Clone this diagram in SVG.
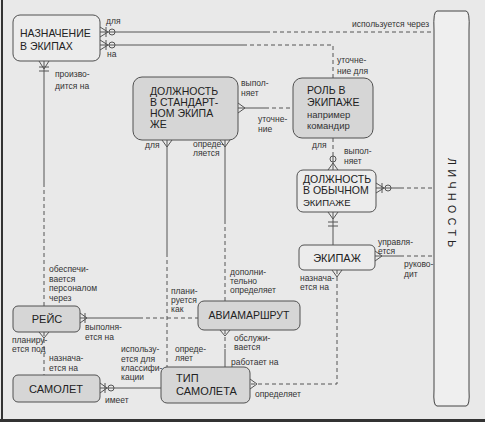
<svg xmlns="http://www.w3.org/2000/svg" width="485" height="422" viewBox="0 0 485 422">
<style>
.bg{fill:#e9e9e9}
.box{stroke:#505050;stroke-width:1}
.lt{fill:#ececec}
.dk{fill:#d6d6d6}
.nm{font-family:"Liberation Sans",Arial,sans-serif;font-size:10.5px;fill:#222}
.sm{font-family:"Liberation Sans",Arial,sans-serif;font-size:8.5px;fill:#333}
.ln{stroke:#555;stroke-width:1;fill:none}
.ds{stroke:#555;stroke-width:1;fill:none;stroke-dasharray:4 3}
.mk{stroke:#555;stroke-width:1;fill:none}
</style>
<rect class="bg" x="0" y="0" width="485" height="422"/>
<line x1="2" y1="0" x2="2" y2="422" stroke="#333" stroke-width="2"/>
<line x1="0" y1="420.5" x2="485" y2="420.5" stroke="#333" stroke-width="3"/>

<g id="connectors">
  <!-- Назначение - Личность -->
  <path class="ln" d="M100,32 H266"/><path class="ds" d="M266,32 H434"/>
  <path class="mk" d="M100,27 L108,32 L100,37 M106,27 V37"/><circle class="mk" cx="112" cy="32" r="3"/>
  <!-- Назначение - Роль -->
  <path class="ln" d="M100,45 H243"/><path class="ds" d="M243,45 H333 V78"/>
  <path class="mk" d="M100,40 L108,45 L100,50 M106,40 V50"/><circle class="mk" cx="112" cy="45" r="3"/>
  <!-- Назначение - Рейс -->
  <path class="ln" d="M44,61 V183"/><path class="ds" d="M44,183 V306"/>
  <path class="mk" d="M39,61 L44,69 L49,61 M39,67 H49 M39,71 H49"/>
  <!-- ДолжнСтанд - Роль -->
  <path class="ln" d="M238,108 H265"/><path class="ds" d="M265,108 H293"/>
  <path class="mk" d="M238,103 L245,108 L238,113"/>
  <!-- ДолжнСтанд - Тип -->
  <path class="ln" d="M167,140 V253"/><path class="ds" d="M167,253 V367"/>
  <path class="mk" d="M162,140 L167,147 L172,140"/>
  <!-- ДолжнСтанд - Авиамаршрут -->
  <path class="ln" d="M225,140 V220"/><path class="ds" d="M225,220 V301"/>
  <path class="mk" d="M220,140 L225,147 L230,140"/>
  <!-- Роль - ДолжнОбыч -->
  <path class="ds" d="M333,138 V154"/><path class="ln" d="M333,154 V170"/>
  <path class="mk" d="M328,170 L333,163 L338,170"/><circle class="mk" cx="333" cy="159" r="3"/>
  <!-- ДолжнОбыч - Личность -->
  <path class="ln" d="M376,188 H400"/><path class="ds" d="M400,188 H434"/>
  <path class="mk" d="M376,183 L384,188 L376,193 M382,183 V193"/><circle class="mk" cx="388" cy="188" r="3"/>
  <!-- ДолжнОбыч - Экипаж -->
  <path class="ln" d="M333,212 V245"/>
  <path class="mk" d="M328,212 L333,219 L338,212 M328,222 H338 M328,226 H338"/>
  <!-- Экипаж - Личность -->
  <path class="ln" d="M375,256 H400"/><path class="ds" d="M400,256 H434"/>
  <path class="mk" d="M375,251 L382,256 L375,261"/>
  <!-- Экипаж - Тип -->
  <path class="ds" d="M337,270 V384 H250"/>
  <path class="mk" d="M332,270 L337,277 L342,270"/>
  <path class="mk" d="M250,379 L257,384 L250,389"/>
  <!-- Рейс - Авиамаршрут -->
  <path class="ln" d="M80,318 H139"/><path class="ds" d="M139,318 H198"/>
  <path class="mk" d="M80,313 L87,318 L80,323 M85,313 V323"/>
  <!-- Рейс - Самолет -->
  <path class="ds" d="M44,332 V375"/>
  <path class="mk" d="M39,332 L44,338 L49,332"/>
  <!-- Авиамаршрут - Тип -->
  <path class="ds" d="M225,330 V349"/><path class="ln" d="M225,349 V367"/>
  <path class="mk" d="M220,330 L225,336 L230,330"/>
  <!-- Самолет - Тип -->
  <path class="ln" d="M100,388 H161"/>
  <path class="mk" d="M100,383 L107,388 L100,393 M105,383 V393"/><circle class="mk" cx="111" cy="388" r="3"/>
</g>

<g id="lichnost">
  <path d="M437,11 H466 Q470,11 469,30 V390 Q470,406 466,406 H437 Q433,406 434,390 V30 Q433,11 437,11 Z" fill="#efefef" stroke="#444" stroke-width="1"/>
  <text class="nm" transform="translate(448,158) rotate(90)" letter-spacing="4.5">ЛИЧНОСТЬ</text>
</g>

<g id="naznachenie">
  <rect class="box lt" x="13" y="15" width="87" height="46" rx="7"/>
  <text class="nm" x="20" y="37">НАЗНАЧЕНИЕ</text>
  <text class="nm" x="20" y="50">В ЭКИПАХ</text>
</g>

<g id="dolzh-stand">
  <rect class="box dk" x="133" y="77" width="105" height="63" rx="9"/>
  <text class="nm" x="150" y="95">ДОЛЖНОСТЬ</text>
  <text class="nm" x="150" y="106">В СТАНДАРТ-</text>
  <text class="nm" x="150" y="117">НОМ ЭКИПА</text>
  <text class="nm" x="150" y="128">ЖЕ</text>
</g>

<g id="rol">
  <rect class="box dk" x="293" y="78" width="80" height="60" rx="9"/>
  <text class="nm" x="307" y="94">РОЛЬ В</text>
  <text class="nm" x="307" y="106">ЭКИПАЖЕ</text>
  <text class="sm" x="307" y="118" style="font-size:9.5px">например</text>
  <text class="sm" x="307" y="129" style="font-size:9.5px">командир</text>
</g>

<g id="dolzh-obych">
  <rect class="box lt" x="297" y="170" width="79" height="42" rx="6"/>
  <text class="nm" x="303" y="183">ДОЛЖНОСТЬ</text>
  <text class="nm" x="303" y="194">В ОБЫЧНОМ</text>
  <text class="nm" x="303" y="206" style="font-size:9.5px">ЭКИПАЖЕ</text>
</g>

<g id="ekipazh">
  <rect class="box lt" x="299" y="245" width="76" height="25" rx="5"/>
  <text class="nm" x="337" y="262" text-anchor="middle" style="font-size:11px">ЭКИПАЖ</text>
</g>

<g id="aviamarshrut">
  <rect class="box dk" x="198" y="301" width="102" height="29" rx="6"/>
  <text class="nm" x="249" y="319" text-anchor="middle">АВИАМАРШРУТ</text>
</g>

<g id="reys">
  <rect class="box dk" x="13" y="306" width="67" height="26" rx="5"/>
  <text class="nm" x="47" y="323" text-anchor="middle" style="font-size:11px">РЕЙС</text>
</g>

<g id="samolet">
  <rect class="box dk" x="13" y="375" width="87" height="27" rx="5"/>
  <text class="nm" x="56" y="393" text-anchor="middle" style="font-size:11px">САМОЛЕТ</text>
</g>

<g id="tip-samoleta">
  <rect class="box dk" x="161" y="367" width="89" height="36" rx="6"/>
  <text class="nm" x="176" y="382" style="font-size:11px">ТИП</text>
  <text class="nm" x="176" y="395" style="font-size:11px">САМОЛЕТА</text>
</g>

<g id="labels">
  <text class="sm" x="106" y="24">для</text>
  <text class="sm" x="107" y="57">на</text>
  <text class="sm" x="352" y="27">используется через</text>
  <text class="sm" x="337" y="63">уточне-</text>
  <text class="sm" x="337" y="74">ние для</text>
  <text class="sm" x="55" y="77">произво-</text>
  <text class="sm" x="55" y="89">дится на</text>
  <text class="sm" x="241" y="86">выпол-</text>
  <text class="sm" x="241" y="96">няет</text>
  <text class="sm" x="258" y="122">уточне-</text>
  <text class="sm" x="258" y="132">ние</text>
  <text class="sm" x="145" y="148">для</text>
  <text class="sm" x="193" y="147">опреде-</text>
  <text class="sm" x="193" y="156">ляется</text>
  <text class="sm" x="312" y="148">для</text>
  <text class="sm" x="344" y="154">выпол-</text>
  <text class="sm" x="344" y="164">няет</text>
  <text class="sm" x="378" y="245">управля-</text>
  <text class="sm" x="378" y="254">ется</text>
  <text class="sm" x="404" y="267">руково-</text>
  <text class="sm" x="404" y="277">дит</text>
  <text class="sm" x="300" y="281">назнача-</text>
  <text class="sm" x="300" y="290">ется на</text>
  <text class="sm" x="230" y="275">дополни-</text>
  <text class="sm" x="230" y="284">тельно</text>
  <text class="sm" x="230" y="293">определяет</text>
  <text class="sm" x="171" y="294">плани-</text>
  <text class="sm" x="171" y="303">руется</text>
  <text class="sm" x="171" y="312">как</text>
  <text class="sm" x="49" y="272">обеспечи-</text>
  <text class="sm" x="49" y="282">вается</text>
  <text class="sm" x="49" y="291">персоналом</text>
  <text class="sm" x="49" y="301">через</text>
  <text class="sm" x="85" y="330">выполня-</text>
  <text class="sm" x="85" y="340">ется на</text>
  <text class="sm" x="12" y="343">планиру-</text>
  <text class="sm" x="12" y="352">ется под</text>
  <text class="sm" x="49" y="361">назнача-</text>
  <text class="sm" x="49" y="371">ется на</text>
  <text class="sm" x="121" y="352">использу-</text>
  <text class="sm" x="121" y="362">ется для</text>
  <text class="sm" x="121" y="371">классифи-</text>
  <text class="sm" x="121" y="380">кации</text>
  <text class="sm" x="105" y="403">имеет</text>
  <text class="sm" x="234" y="341">обслужи-</text>
  <text class="sm" x="234" y="350">вается</text>
  <text class="sm" x="231" y="365">работает на</text>
  <text class="sm" x="175" y="352">опреде-</text>
  <text class="sm" x="175" y="361">ляет</text>
  <text class="sm" x="255" y="397">определяет</text>
</g>
</svg>
